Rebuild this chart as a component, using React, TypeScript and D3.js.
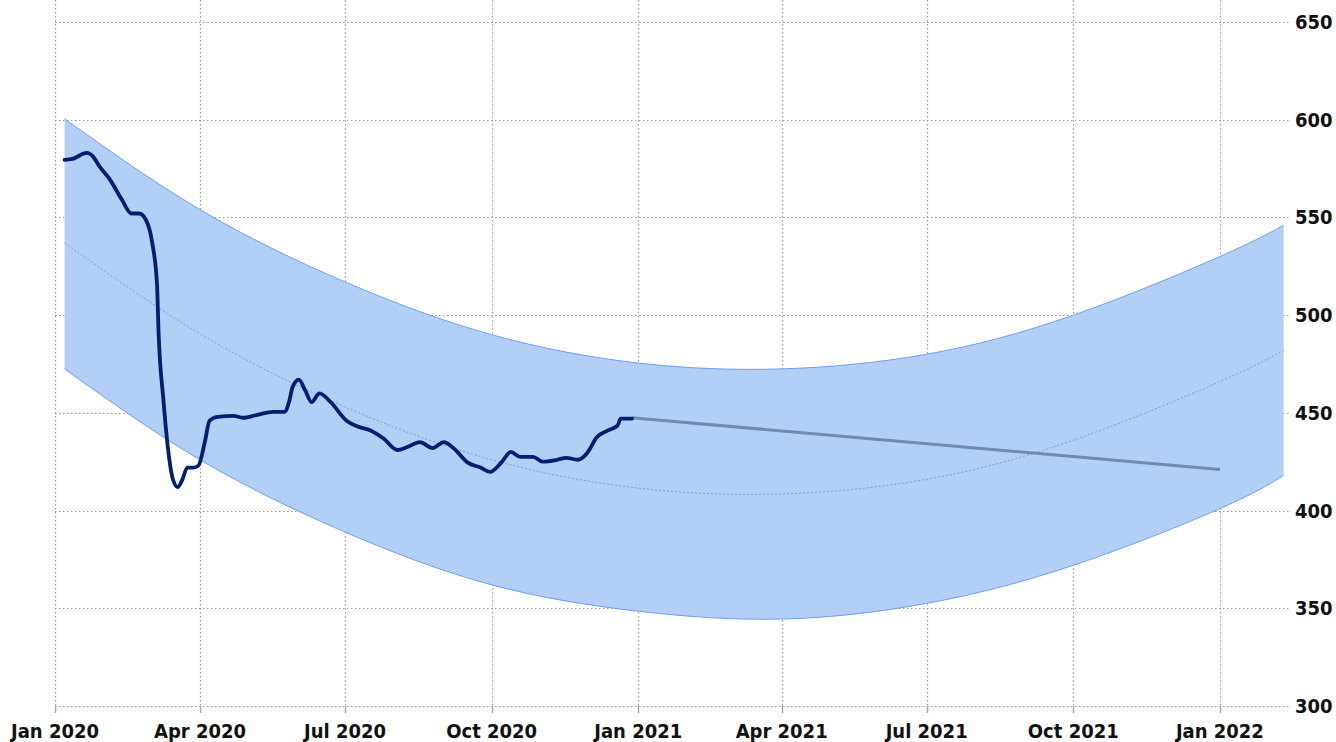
import React from "react";
import * as d3 from "d3";

const mainDates = [
  "2020-01-07","2020-01-12","2020-01-21","2020-01-25","2020-01-29","2020-02-04","2020-02-12","2020-02-18",
  "2020-02-23","2020-02-28","2020-03-02","2020-03-05","2020-03-06","2020-03-09","2020-03-12","2020-03-15",
  "2020-03-18","2020-03-21","2020-03-24","2020-03-28","2020-03-31","2020-04-04","2020-04-07","2020-04-12",
  "2020-04-22","2020-04-28","2020-05-07","2020-05-17","2020-05-24","2020-05-27","2020-05-29","2020-06-02",
  "2020-06-06","2020-06-10","2020-06-15","2020-06-22","2020-07-02","2020-07-09","2020-07-17","2020-07-25",
  "2020-08-03","2020-08-09","2020-08-17","2020-08-25","2020-09-01","2020-09-07","2020-09-16","2020-09-24",
  "2020-09-30","2020-10-07","2020-10-13","2020-10-19","2020-10-27","2020-11-02","2020-11-11","2020-11-17",
  "2020-11-24","2020-11-30","2020-12-06","2020-12-13","2020-12-19","2020-12-21","2020-12-25","2020-12-28"
];
const mainValues = [
  579.5,580,583,581,576,570,559,552,
  552,547,537,516,491,457,431,416,
  412,416,422,422,423,435,446,448,
  448.5,447.5,449,450.5,450.5,456,463,467,
  461.5,455.5,460,455.5,446,443,441,437,
  431,432.5,435,432,435,432,424.5,422,
  419.8,424.5,430,427.5,427.5,425,426,427,
  426,429.5,437.5,441,443.5,447,447,447
];

const forecastDates = ["2020-12-28", "2022-01-01"];
const forecastValues = [447.5, 421];

const bandDates = [
  "2020-01-07","2020-04-01","2020-07-01","2020-10-01","2021-01-01",
  "2021-04-01","2021-07-01","2021-10-01","2022-01-01","2022-02-10"
];
const bandUpper = [600.5, 554, 517, 490, 475.5, 472.5, 480, 500, 530, 546];
const bandLower = [472.5, 426, 389, 362, 348.5, 344.5, 352.5, 372, 401, 418];
const bandMiddle = [537, 490.5, 453, 426, 411.5, 408.5, 416, 436, 466, 482];

const xTickDates = [
  "2020-01-01","2020-04-01","2020-07-01","2020-10-01","2021-01-01",
  "2021-04-01","2021-07-01","2021-10-01","2022-01-01"
];
const xTickLabels = [
  "Jan 2020","Apr 2020","Jul 2020","Oct 2020","Jan 2021",
  "Apr 2021","Jul 2021","Oct 2021","Jan 2022"
];
const yTicks = [300, 350, 400, 450, 500, 550, 600, 650];

const parse = (s: string) => {
  const [y, m, d] = s.split("-").map(Number);
  return new Date(y, m - 1, d);
};

export default function App() {
  const W = 1336, H = 742;
  const x = d3.scaleTime()
    .domain([parse("2020-01-01"), parse("2022-02-14")])
    .range([55, 1290]);
  const y = d3.scaleLinear().domain([300, 650]).range([706, 22]);

  const band = bandDates.map((d, i) => ({ d: parse(d), u: bandUpper[i], l: bandLower[i], m: bandMiddle[i] }));
  const area = d3.area<any>().x(p => x(p.d)).y0(p => y(p.l)).y1(p => y(p.u)).curve(d3.curveNatural);
  const upperLine = d3.line<any>().x(p => x(p.d)).y(p => y(p.u)).curve(d3.curveNatural);
  const lowerLine = d3.line<any>().x(p => x(p.d)).y(p => y(p.l)).curve(d3.curveNatural);
  const midLine = d3.line<any>().x(p => x(p.d)).y(p => y(p.m)).curve(d3.curveNatural);

  const main = mainDates.map((d, i) => ({ d: parse(d), v: mainValues[i] }));
  const mainLine = d3.line<any>().x(p => x(p.d)).y(p => y(p.v)).curve(d3.curveMonotoneX);
  const fc = forecastDates.map((d, i) => ({ d: parse(d), v: forecastValues[i] }));
  const fcLine = d3.line<any>().x(p => x(p.d)).y(p => y(p.v));

  const [x0, x1] = x.range();
  const font = "'DejaVu Sans Condensed', 'DejaVu Sans', sans-serif";

  return (
    <svg width={W} height={H} style={{ position: "absolute", left: 0, top: 0, background: "#fff" }}>
      <g stroke="#9a9a9a" strokeWidth={1.2} strokeDasharray="1.5,2.5">
        {yTicks.map(t => (
          <line key={"h" + t} x1={x0} x2={x1} y1={Math.round(y(t)) + 0.5} y2={Math.round(y(t)) + 0.5} />
        ))}
        {xTickDates.map(t => (
          <line key={"v" + t} x1={Math.round(x(parse(t))) + 0.5} x2={Math.round(x(parse(t))) + 0.5} y1={0} y2={706} />
        ))}
      </g>
      <g stroke="#a8a8a8" strokeWidth={1.5}>
        {xTickDates.map(t => (
          <line key={"t" + t} x1={Math.round(x(parse(t))) + 0.5} x2={Math.round(x(parse(t))) + 0.5} y1={706} y2={713} />
        ))}
      </g>
      <path d={area(band) || ""} fill="#b3cff6" />
      <path d={upperLine(band) || ""} fill="none" stroke="#6d9ff0" strokeWidth={1} />
      <path d={lowerLine(band) || ""} fill="none" stroke="#6d9ff0" strokeWidth={1} />
      <path d={midLine(band) || ""} fill="none" stroke="#7f8ea8" strokeWidth={1} strokeDasharray="2,2" opacity={0.8} />
      <path d={fcLine(fc) || ""} fill="none" stroke="#6a7c9c" strokeWidth={3} opacity={0.85} />
      <path d={mainLine(main) || ""} fill="none" stroke="#02206f" strokeWidth={3.8} strokeLinejoin="round" strokeLinecap="round" />
      <g fontFamily={font} fontWeight="bold" fontSize={20} fill="#111">
        {xTickDates.map((t, i) => (
          <text key={"xl" + t} x={x(parse(t))} y={738} textAnchor="middle">{xTickLabels[i]}</text>
        ))}
        {yTicks.map(t => (
          <text key={"yl" + t} x={1295} y={y(t) + 7} textAnchor="start">{t}</text>
        ))}
      </g>
    </svg>
  );
}
